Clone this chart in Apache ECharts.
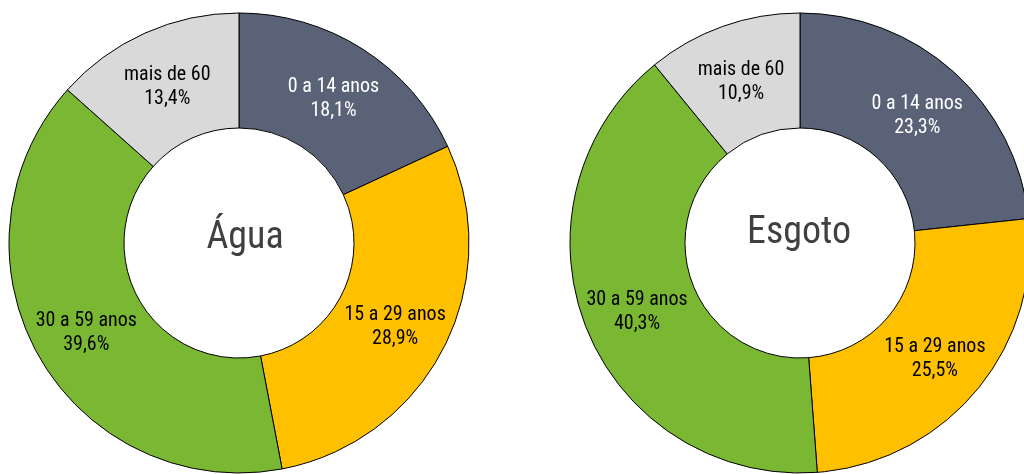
<!DOCTYPE html>
<html>
<head>
<meta charset="utf-8">
<script src="https://cdn.jsdelivr.net/npm/echarts@6/dist/echarts.min.js"></script>
<style>
  html, body { margin: 0; padding: 0; background: #ffffff; }
  #chart { width: 1024px; height: 474px; }
</style>
</head>
<body>
<div id="chart"></div>
<script>
// Age groups and their shares (%) for each service
const faixas = ['0 a 14 anos', '15 a 29 anos', '30 a 59 anos', 'mais de 60'];
const agua = [18.1, 28.9, 39.6, 13.4];
const esgoto = [23.3, 25.5, 40.3, 10.9];
const titulos = ['Água', 'Esgoto'];

const cores = ['#596277', '#FFC000', '#7AB833', '#D9D9D9'];
const corTexto = ['#ffffff', '#000000', '#000000', '#000000'];

function fmt(v) {
  return v.toFixed(1).replace('.', ',') + '%';
}

function buildData(values) {
  return faixas.map((nome, i) => ({
    name: nome,
    value: values[i],
    itemStyle: { color: cores[i] },
    label: { color: corTexto[i] }
  }));
}

function donut(values, cx) {
  return {
    type: 'pie',
    center: [cx, 243],
    radius: [115, 230],
    startAngle: 90,
    clockwise: true,
    silent: true,
    animation: false,
    itemStyle: { borderColor: '#000000', borderWidth: 1 },
    label: {
      show: true,
      position: 'inside',
      fontFamily: '"Roboto Condensed", "Liberation Sans", sans-serif',
      fontSize: 20,
      lineHeight: 24,
      offset: [0, 4],
      formatter: p => p.name + '\n' + fmt(p.value)
    },
    labelLine: { show: false },
    data: buildData(values)
  };
}

const fonteCentro = '38px "Roboto Condensed", "Liberation Sans", sans-serif';

const chart = echarts.init(document.getElementById('chart'), null, { renderer: 'canvas' });
chart.setOption({
  backgroundColor: '#ffffff',
  animation: false,
  series: [donut(agua, 239), donut(esgoto, 800)],
  graphic: [
    {
      type: 'text', x: 245, y: 238,
      style: {
        text: titulos[0], fill: '#404040', font: fonteCentro,
        align: 'center', verticalAlign: 'middle'
      }
    },
    {
      type: 'text', x: 799, y: 233,
      style: {
        text: titulos[1], fill: '#404040', font: fonteCentro,
        align: 'center', verticalAlign: 'middle'
      }
    }
  ]
});
</script>
</body>
</html>
